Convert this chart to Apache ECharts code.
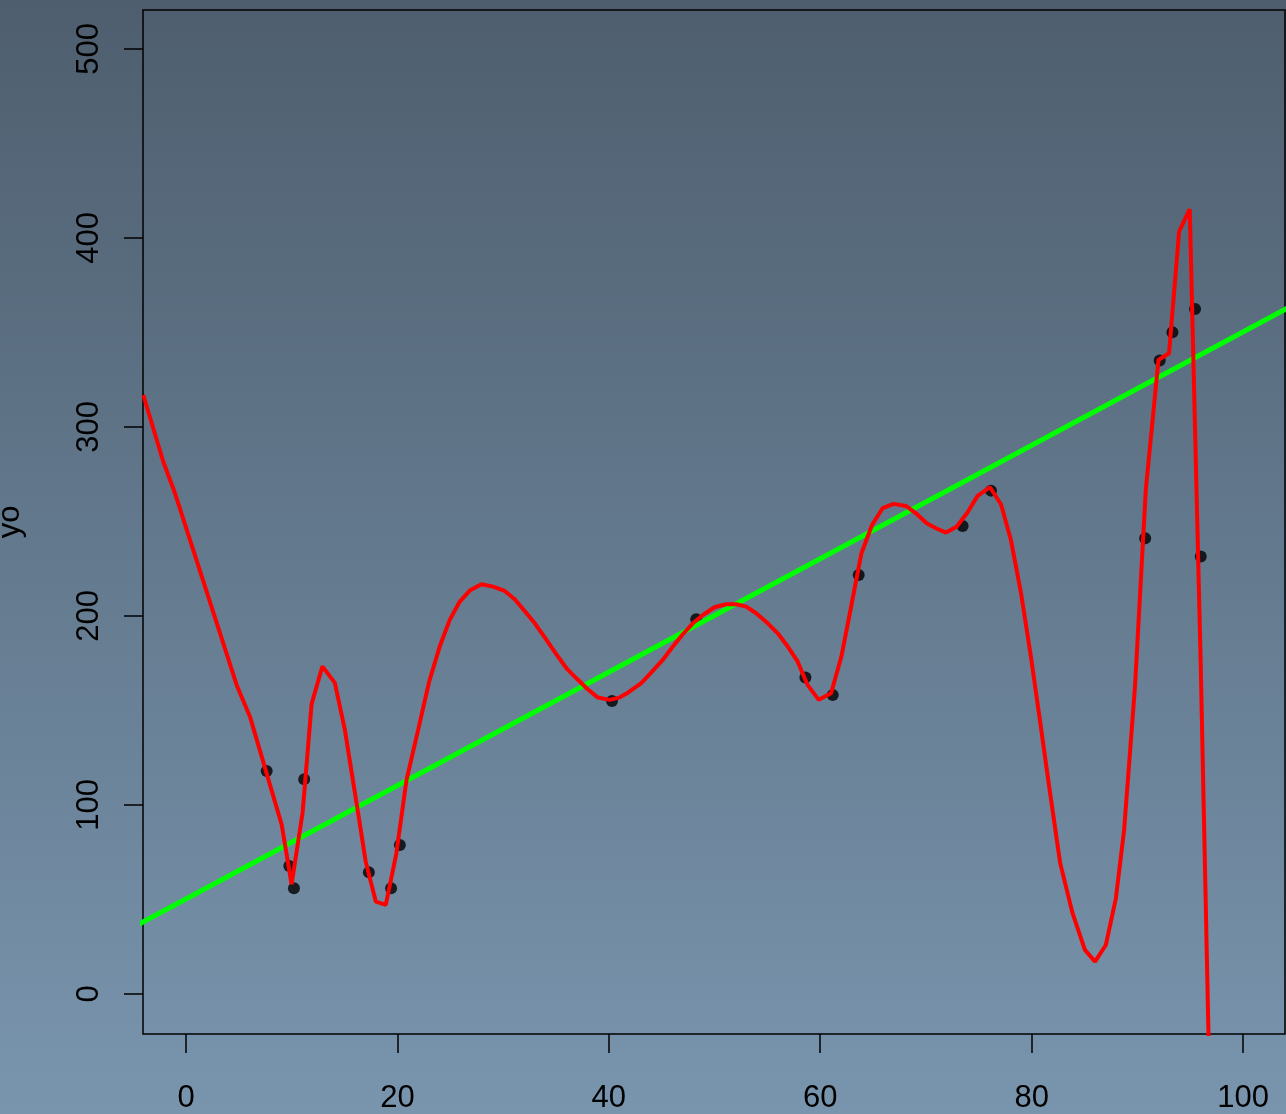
<!DOCTYPE html>
<html>
<head>
<meta charset="utf-8">
<script src="https://cdn.jsdelivr.net/npm/echarts@6/dist/echarts.min.js"></script>
<style>
html,body{margin:0;padding:0;width:1286px;height:1114px;overflow:hidden;background:#66809a;}
#chart{width:1286px;height:1114px;}
</style>
</head>
<body>
<div id="chart"></div>
<script>
// Tick labels
const xTicks = [0, 20, 40, 60, 80, 100];
const yTicks = [0, 100, 200, 300, 400, 500];

// Observed points
const pointX = [7.63, 9.77, 10.21, 11.18, 17.3, 19.4, 20.23, 40.3, 48.27, 58.6, 61.18, 63.64, 73.47, 76.15, 90.74, 92.12, 93.32, 95.46, 96.0];
const pointY = [118.0, 67.7, 55.9, 113.6, 64.4, 55.9, 78.8, 155.0, 198.3, 167.4, 158.2, 221.7, 247.6, 266.3, 241.1, 335.1, 350.1, 362.4, 231.4];

// Linear fit line (green), read at its two ends
const fitX = [-5, 105];
const fitY = [35.3, 365.3];

// Wiggly fitted curve (red)
const curveX = [-4.04, -2.15, -1.04, 4.79, 6.05, 9.05, 9.99, 11.03, 11.88, 12.9, 14.08, 15.03, 16.13, 17.0, 17.96, 18.9, 19.9, 20.86, 21.96, 23.0,
  24.0, 24.95, 25.9, 26.84, 27.95, 29.05, 30.15, 31.1, 32.04, 33.0, 34.1, 35.04, 36.0, 36.93, 38.0, 38.97, 40.08, 41.0, 41.8, 43.07,
  44.0, 45.1, 46.06, 47.0, 47.95, 48.9, 50.0, 51.1, 52.05, 53.0, 53.94, 55.04, 55.98, 56.93, 57.87, 58.8, 59.86, 61.03, 62.0, 62.9,
  63.9, 64.9, 65.9, 66.95, 68.1, 69.06, 70.07, 70.95, 71.9, 72.9, 73.88, 74.89, 76.06, 77.1, 78.04, 79.0, 79.93, 80.78, 81.66, 82.7,
  83.87, 85.04, 86.0, 87.02, 87.97, 88.75, 89.79, 90.8, 92.0, 93.0, 93.95, 94.96, 96.0, 97.0];
const curveY = [316.9, 281.6, 264.9, 163.5, 146.7, 89.6, 58.0, 96.0, 153.4, 173.3, 164.6, 139.7, 101.1, 70.0, 48.8, 47.1, 74.4, 113.2, 139.7, 165.2,
  183.8, 197.9, 207.6, 213.4, 216.8, 215.5, 213.2, 208.8, 202.6, 196.1, 187.3, 179.7, 172.3, 167.0, 161.2, 156.8, 155.6, 156.8, 159.4, 164.4,
  170.0, 176.7, 183.8, 190.3, 196.1, 200.5, 204.6, 206.2, 206.2, 204.9, 201.4, 196.1, 190.8, 183.8, 175.8, 163.5, 155.6, 159.1, 178.5, 204.2,
  233.2, 248.1, 257.0, 259.3, 258.2, 254.3, 249.0, 246.4, 244.1, 247.2, 254.3, 263.5, 268.1, 259.1, 240.2, 212.0, 178.5, 145.0, 109.7, 69.2,
  42.7, 23.3, 17.1, 25.9, 50.6, 86.8, 163.5, 266.7, 335.4, 339.0, 403.3, 415.2, 173.5, -93.0];

const pts = pointX.map((x, i) => [x, pointY[i]]);
const fit = fitX.map((x, i) => [x, fitY[i]]);
const curve = curveX.map((x, i) => [x, curveY[i]]);

const font = 'Liberation Sans, Arial, sans-serif';
const chart = echarts.init(document.getElementById('chart'), null, {renderer: 'canvas'});
chart.setOption({
  animation: false,
  backgroundColor: new echarts.graphic.LinearGradient(0, 0, 0, 1, [
    {offset: 0, color: '#4e5e6e'},
    {offset: 1, color: '#7995ae'}
  ]),
  grid: {left: 143, right: 1, top: 10, bottom: 80, containLabel: false, outerBoundsMode: 'none',
    show: true, borderColor: '#000', borderWidth: 1.5, backgroundColor: 'transparent'},
  xAxis: {
    type: 'value', min: -4.07, max: 103.97, position: 'bottom',
    axisLine: {show: false, onZero: false},
    splitLine: {show: false},
    axisTick: {show: true, inside: false, length: 19, customValues: xTicks, lineStyle: {color: '#000', width: 1.5}},
    axisLabel: {customValues: xTicks, margin: 49, color: '#000', fontSize: 31, fontFamily: font}
  },
  yAxis: {
    type: 'value', min: -21.2, max: 520.6, position: 'left',
    axisLine: {show: false, onZero: false},
    splitLine: {show: false},
    axisTick: {show: true, inside: false, length: 19, customValues: yTicks, lineStyle: {color: '#000', width: 1.5}},
    axisLabel: {customValues: yTicks, rotate: 90, margin: 38, color: '#000', fontSize: 31, fontFamily: font},
    name: 'yo', nameLocation: 'middle', nameGap: 117, nameRotate: 90,
    nameTextStyle: {color: '#000', fontSize: 31, fontFamily: font}
  },
  series: [
    {type: 'scatter', data: pts, symbol: 'circle', symbolSize: 12, itemStyle: {color: '#000'}, z: 2},
    {type: 'line', data: fit, showSymbol: false, clip: true, lineStyle: {color: '#00ff00', width: 5}, z: 3},
    {type: 'line', data: curve, showSymbol: false, clip: true, lineStyle: {color: '#ff0000', width: 4}, z: 4}
  ]
});
</script>
</body>
</html>
